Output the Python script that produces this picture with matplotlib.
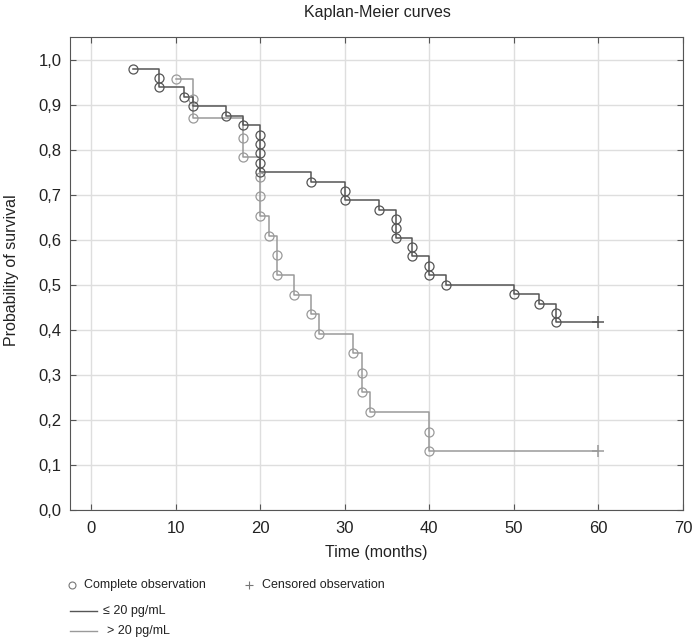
import matplotlib
matplotlib.use("Agg")
import matplotlib.pyplot as plt
from matplotlib.lines import Line2D

plt.rcParams["font.family"] = ["Liberation Sans", "DejaVu Sans"]

# <= 20 pg/mL group: event times (ties repeated) and survival after each event
low_times = [5, 8, 8, 11, 12, 16, 18, 20, 20, 20, 20, 20, 26, 30, 30, 34,
             36, 36, 36, 38, 38, 40, 40, 42, 50, 53, 55, 55]
low_surv = [0.979, 0.958, 0.938, 0.917, 0.896, 0.875, 0.854, 0.833, 0.813,
            0.792, 0.771, 0.750, 0.729, 0.708, 0.688, 0.667, 0.646, 0.625,
            0.604, 0.583, 0.563, 0.542, 0.521, 0.500, 0.479, 0.458, 0.438, 0.417]
low_censor = 60

# > 20 pg/mL group
high_times = [10, 12, 12, 18, 18, 20, 20, 20, 21, 22, 22, 24, 26, 27, 31,
              32, 32, 33, 40, 40]
high_surv = [0.957, 0.913, 0.870, 0.826, 0.783, 0.739, 0.696, 0.652, 0.609,
             0.565, 0.522, 0.478, 0.435, 0.391, 0.348, 0.304, 0.261, 0.217,
             0.174, 0.130]
high_censor = 60

x_ticks = [0, 10, 20, 30, 40, 50, 60, 70]
y_ticks = [0.0, 0.1, 0.2, 0.3, 0.4, 0.5, 0.6, 0.7, 0.8, 0.9, 1.0]
y_tick_labels = ["0,0", "0,1", "0,2", "0,3", "0,4", "0,5",
                 "0,6", "0,7", "0,8", "0,9", "1,0"]

DARK = "#555555"
LIGHT = "#9a9a9a"
W, H = 697, 643


def fx(px):
    return px / W


def fy(py):
    return 1 - py / H


fig = plt.figure(figsize=(W / 100, H / 100), dpi=100)
ax = fig.add_axes([fx(70), fy(510), fx(683) - fx(70), fy(37) - fy(510)])


def km_curve(times, surv, censor, color):
    ax.plot(times + [censor], surv + [surv[-1]], drawstyle="steps-post",
            color=color, lw=1.1, zorder=3)
    ax.plot(times, surv, "o", ms=6.5, mfc="none", mec=color, mew=0.9, zorder=4)
    ax.plot([censor], [surv[-1]], "+", ms=9, mew=1.1, color=color, zorder=4)


km_curve(high_times, high_surv, high_censor, LIGHT)
km_curve(low_times, low_surv, low_censor, DARK)

ax.set_xlim(-2.5, 70)
ax.set_ylim(0, 1.05)
ax.set_xticks(x_ticks)
ax.set_yticks(y_ticks)
ax.set_yticklabels(y_tick_labels)
ax.grid(color="#dedede", lw=1)
ax.set_axisbelow(True)
ax.tick_params(direction="in", length=4, top=True, right=True, color=DARK,
               labelcolor="#222222", labelsize=12)
ax.tick_params(axis="x", pad=8)
ax.tick_params(axis="y", pad=6)
for s in ax.spines.values():
    s.set_color(DARK)

fig.text(fx(377), fy(12), "Kaplan-Meier curves", ha="center", va="center",
         fontsize=11.5, color="#222222")
fig.text(fx(376), fy(553), "Time (months)", ha="center", va="center",
         fontsize=11.5, color="#222222")
fig.text(fx(12), fy(270), "Probability of survival", ha="center", va="center",
         rotation=90, fontsize=11.5, color="#222222")

# legend below the plot
fig.add_artist(Line2D([fx(72)], [fy(585)], marker="o", ms=5, mfc="none",
                      mec="#777777", mew=0.8, transform=fig.transFigure))
fig.text(fx(84), fy(585), "Complete observation", va="center", fontsize=9,
         color="#222222")
fig.add_artist(Line2D([fx(249)], [fy(585)], marker="+", ms=6, mew=0.8,
                      color="#777777", transform=fig.transFigure))
fig.text(fx(262), fy(585), "Censored observation", va="center", fontsize=9,
         color="#222222")
fig.add_artist(Line2D([fx(70), fx(97)], [fy(611), fy(611)], color=DARK, lw=1,
                      transform=fig.transFigure))
fig.text(fx(103), fy(611), "\u2264 20 pg/mL", va="center", fontsize=9,
         color="#222222")
fig.add_artist(Line2D([fx(70), fx(97)], [fy(631), fy(631)], color=LIGHT, lw=1,
                      transform=fig.transFigure))
fig.text(fx(107), fy(631), "> 20 pg/mL", va="center", fontsize=9,
         color="#222222")

fig.savefig("out.png", dpi=100)
plt.close(fig)
